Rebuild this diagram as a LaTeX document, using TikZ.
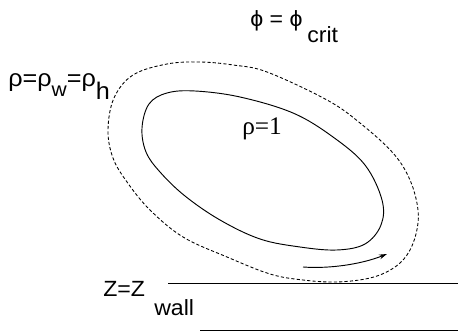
\documentclass[tikz,border=0pt]{standalone}
\usepackage{fontspec}
\setmainfont[FakeStretch=1.05]{Liberation Sans}
\newfontfamily\serifnum{Liberation Serif}
\usetikzlibrary{arrows.meta}
\tikzset{
  lbl/.style={anchor=base west, inner sep=0pt, font=\fontsize{16.5}{19}\selectfont},
  curve/.style={line width=0.7pt, black},
  dashcurve/.style={line width=0.65pt, black, dash pattern=on 2.4pt off 1.6pt},
  wall/.style={line width=0.75pt, black}
}
\begin{document}
\begin{tikzpicture}[x=0.75pt,y=-0.75pt]
\useasboundingbox (0,0) rectangle (458,334);
% labels
\node[lbl] (phi) at (250,27) {ϕ = ϕ};
\node[lbl] (crit) at (307,43) {crit};
\node[lbl, font=\fontsize{18}{21}\selectfont] (rho) at (8,87) {ρ=ρ\raisebox{-7.5pt}{\fontsize{15}{17}\selectfont w}=ρ\raisebox{-9.75pt}{h}};
\node[lbl, font=\fontsize{19}{22}\serifnum] (rhoone) at (242,135) {ρ=1};
\node[lbl] (zz) at (103,297) {Z=Z};
\node[lbl] (wallt) at (154,316) {wall};
% walls
\coordinate (w1a) at (168,284); \coordinate (w1b) at (458,284);
\coordinate (w2a) at (200,331); \coordinate (w2b) at (458,331);
\draw[wall] (w1a) -- (w1b);
\draw[wall] (w2a) -- (w2b);
% inner solid contour
\draw[curve] plot[smooth cycle, tension=0.6] coordinates {
 (142,128) (149,104) (167,93) (195,91) (240,97) (293,113) (333,137) (365,165)
 (382,200) (381,225) (365,244) (337,250) (300,247) (260,239) (220,220) (185,196)
 (160,172) (146,152)};
% outer dashed contour
\draw[dashcurve] plot[smooth cycle, tension=0.6] coordinates {
 (108,130) (114,98) (133,75) (167,64) (200,62) (233,65) (267,72) (327,100)
 (360,123) (393,153) (410,180) (418,210) (416,234) (407,255) (392,269) (370,278)
 (337,282) (303,280) (270,274) (227,257) (183,237) (150,210) (127,182) (113,158)};
% flow arrow
\coordinate (a1) at (303,267); \coordinate (a2) at (387,254);
\draw[curve, -{Stealth[length=6pt,width=3.6pt]}] (a1) .. controls (330,269) and (362,264) .. (a2);
\end{tikzpicture}
\end{document}
